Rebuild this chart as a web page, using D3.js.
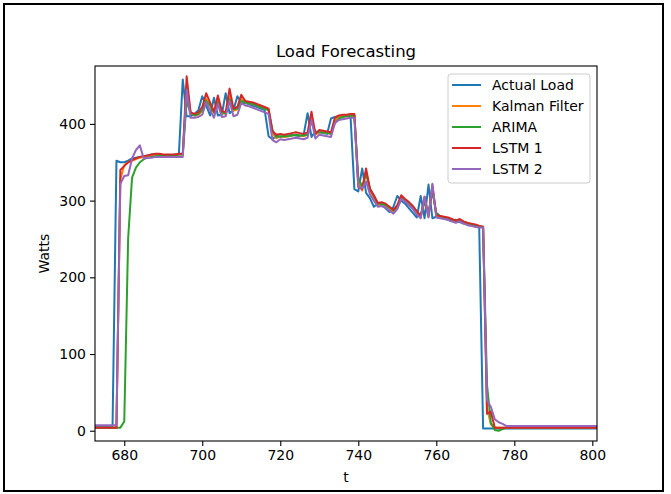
<!DOCTYPE html>
<html lang="en">
<head>
    <meta charset="UTF-8">
    <title>Load Forecasting</title>
    <script type="text/javascript" src="https://cdn.jsdelivr.net/npm/d3@7"></script>
    <style type="text/css">
        body {
            margin: 0;
            background: #fff;
        }
        svg text {
            font-family: "DejaVu Sans", sans-serif;
            fill: #000;
        }
        .axis path,
        .axis line {
            stroke: #000;
            stroke-width: 1.1;
        }
    </style>
</head>
<body>
    <svg id="chart" width="671" height="494"></svg>

    <script>
        // sample index t (one point per step)
        var tValues = d3.range(672, 803);

        var actualLoad = [
            6, 6, 6, 6, 6, 6,
            352, 350, 350, 352, 355, 356, 357, 358, 359, 360,
            360, 359, 359, 359, 359, 360, 360, 458, 410, 410,
            413, 418, 436, 424, 411, 434, 411, 412, 440, 414,
            418, 436, 428, 427, 426, 424, 422, 420, 418, 384,
            380, 385, 383, 384, 385, 386, 385, 384, 386, 414,
            383, 390, 389, 388, 387, 407, 409, 410, 410, 411,
            411, 315, 312, 342, 310, 303, 292, 296, 294, 290,
            285, 292, 306, 300, 296, 290, 284, 278, 306, 277,
            321, 277, 279, 278, 277, 275, 273, 275, 272, 270,
            269, 268, 266, 265, 3, 3, 3, 3, 3, 3,
            3, 3, 3, 3, 3, 3, 3, 3, 3, 3,
            3, 3, 3, 3, 3, 3, 3, 3, 3, 3,
            3, 3, 3, 3, 3
        ];

        var kalman = [
            4, 4, 4, 4, 4, 4,
            4, 328, 346, 350, 352, 354, 356, 357, 358, 359,
            360, 360, 359, 359, 359, 359, 360, 360, 450, 416,
            411, 412, 417, 433, 426, 414, 431, 414, 413, 436,
            417, 419, 433, 428, 427, 426, 424, 422, 420, 418,
            388, 381, 384, 383, 384, 385, 386, 385, 384, 386,
            410, 386, 389, 389, 388, 387, 404, 409, 410, 410,
            411, 411, 324, 313, 338, 313, 304, 294, 296, 294,
            290, 286, 292, 304, 300, 296, 291, 285, 279, 302,
            279, 317, 280, 279, 278, 277, 275, 273, 275, 272,
            270, 269, 268, 266, 265, 30, 8, 4, 4, 4,
            4, 4, 4, 4, 4, 4, 4, 4, 4, 4,
            4, 4, 4, 4, 4, 4, 4, 4, 4, 4,
            4, 4, 4, 4, 4
        ];

        var arima = [
            4, 4, 4, 4, 4, 4,
            4, 4, 12, 251, 330, 343, 350, 354, 356, 357,
            358, 359, 359, 359, 359, 359, 360, 360, 430, 414,
            411, 413, 418, 430, 424, 415, 428, 415, 414, 432,
            419, 420, 430, 428, 427, 426, 424, 422, 420, 418,
            392, 383, 384, 384, 384, 385, 386, 385, 385, 386,
            405, 389, 389, 389, 388, 387, 401, 407, 409, 410,
            410, 411, 330, 318, 335, 316, 306, 296, 296, 294,
            291, 287, 291, 302, 301, 297, 292, 286, 281, 298,
            283, 312, 284, 280, 278, 277, 275, 274, 274, 272,
            271, 269, 268, 267, 266, 60, 10, 1, 0, 2,
            4, 4, 4, 4, 4, 4, 4, 4, 4, 4,
            4, 4, 4, 4, 4, 4, 4, 4, 4, 4,
            4, 4, 4, 4, 4
        ];

        var lstm1 = [
            4, 4, 4, 4, 4, 4,
            4, 340, 345, 350, 353, 355, 357, 358, 359, 360,
            361, 361, 360, 360, 360, 360, 361, 361, 462, 415,
            413, 415, 422, 440, 428, 416, 437, 417, 415, 446,
            420, 422, 438, 430, 429, 428, 426, 424, 422, 420,
            390, 386, 387, 386, 387, 388, 389, 388, 387, 389,
            416, 387, 392, 391, 390, 389, 408, 411, 412, 412,
            413, 413, 318, 315, 342, 315, 307, 297, 298, 296,
            292, 288, 294, 307, 302, 298, 293, 286, 280, 305,
            280, 320, 281, 280, 279, 278, 276, 274, 276, 273,
            271, 270, 269, 267, 266, 22, 25, 4, 4, 4,
            4, 4, 4, 4, 4, 4, 4, 4, 4, 4,
            4, 4, 4, 4, 4, 4, 4, 4, 4, 4,
            4, 4, 4, 4, 4
        ];

        var lstm2 = [
            7, 7, 7, 7, 7, 7,
            7, 322, 332, 333, 355, 366, 372, 355, 356, 356,
            357, 357, 357, 357, 357, 357, 357, 357, 445, 408,
            408, 409, 412, 428, 418, 408, 426, 409, 410, 430,
            410, 412, 427, 424, 423, 421, 419, 417, 415, 413,
            379, 376, 380, 379, 380, 381, 382, 381, 380, 382,
            405, 381, 386, 385, 384, 383, 401, 405, 406, 407,
            408, 408, 318, 316, 325, 308, 300, 292, 293, 291,
            287, 283, 289, 302, 299, 294, 289, 282, 277, 305,
            278, 322, 278, 277, 276, 275, 273, 271, 273, 270,
            268, 267, 266, 265, 265, 40, 31, 15, 11, 9,
            6, 6, 6, 6, 6, 6, 6, 6, 6, 6,
            6, 6, 6, 6, 6, 6, 6, 6, 6, 6,
            6, 6, 6, 6, 6
        ];

        var seriesNames = ["Actual Load", "Kalman Filter", "ARIMA", "LSTM 1", "LSTM 2"];
        var seriesValues = [actualLoad, kalman, arima, lstm1, lstm2];
        var colors = ["#1f77b4", "#ff7f0e", "#2ca02c", "#d62728", "#9467bd"];

        var xTicks = [680, 700, 720, 740, 760, 780, 800];
        var yTicks = [0, 100, 200, 300, 400];

        var svg = d3.select("#chart");

        // outer frame round the whole figure
        svg.append("rect")
            .attr("x", 4)
            .attr("y", 4)
            .attr("width", 659)
            .attr("height", 487)
            .attr("fill", "none")
            .attr("stroke", "#000")
            .attr("stroke-width", 2);

        var plot = { left: 95, right: 597, top: 66, bottom: 441 };

        var x = d3.scaleLinear()
            .domain([672.5, 801.2])
            .range([plot.left, plot.right]);

        var y = d3.scaleLinear()
            .domain([-13.4, 475.5])
            .range([plot.bottom, plot.top]);

        svg.append("clipPath")
            .attr("id", "clip")
            .append("rect")
            .attr("x", plot.left)
            .attr("y", plot.top)
            .attr("width", plot.right - plot.left)
            .attr("height", plot.bottom - plot.top);

        var line = d3.line()
            .x((d, i) => x(tValues[i]))
            .y(d => y(d));

        svg.append("g")
            .attr("clip-path", "url(#clip)")
            .selectAll("path")
            .data(seriesValues)
            .enter()
            .append("path")
            .attr("fill", "none")
            .attr("stroke", (d, i) => colors[i])
            .attr("stroke-width", 2)
            .attr("stroke-linejoin", "round")
            .attr("d", d => line(d));

        // axes
        svg.append("g")
            .attr("class", "axis")
            .attr("transform", `translate(0,${plot.bottom})`)
            .call(d3.axisBottom(x).tickValues(xTicks).tickSize(5).tickPadding(4))
            .call(g => g.select(".domain").remove())
            .selectAll("text")
            .style("font-size", "14px");

        svg.append("g")
            .attr("class", "axis")
            .attr("transform", `translate(${plot.left},0)`)
            .call(d3.axisLeft(y).tickValues(yTicks).tickSize(5).tickPadding(4))
            .call(g => g.select(".domain").remove())
            .selectAll("text")
            .style("font-size", "14px");

        svg.append("rect")
            .attr("x", plot.left)
            .attr("y", plot.top)
            .attr("width", plot.right - plot.left)
            .attr("height", plot.bottom - plot.top)
            .attr("fill", "none")
            .attr("stroke", "#000")
            .attr("stroke-width", 1.1);

        // labels
        svg.append("text")
            .attr("x", (plot.left + plot.right) / 2)
            .attr("y", 57)
            .attr("text-anchor", "middle")
            .style("font-size", "16.5px")
            .text("Load Forecasting");

        svg.append("text")
            .attr("x", (plot.left + plot.right) / 2)
            .attr("y", 482)
            .attr("text-anchor", "middle")
            .style("font-size", "14px")
            .text("t");

        svg.append("text")
            .attr("transform", `translate(49,${(plot.top + plot.bottom) / 2}) rotate(-90)`)
            .attr("text-anchor", "middle")
            .style("font-size", "14px")
            .text("Watts");

        // legend
        var legend = svg.append("g")
            .attr("transform", "translate(448,74)");

        legend.append("rect")
            .attr("width", 142)
            .attr("height", 109)
            .attr("rx", 3)
            .attr("fill", "#fff")
            .attr("fill-opacity", 0.8)
            .attr("stroke", "#ccc")
            .attr("stroke-width", 1);

        var items = legend.selectAll(".item")
            .data(seriesNames)
            .enter()
            .append("g")
            .attr("class", "item")
            .attr("transform", (d, i) => `translate(0,${11 + i * 21})`);

        items.append("line")
            .attr("x1", 4)
            .attr("x2", 33)
            .attr("stroke", (d, i) => colors[i])
            .attr("stroke-width", 2);

        items.append("text")
            .attr("x", 44)
            .attr("dy", "0.35em")
            .style("font-size", "14px")
            .text(d => d);
    </script>
</body>
</html>
